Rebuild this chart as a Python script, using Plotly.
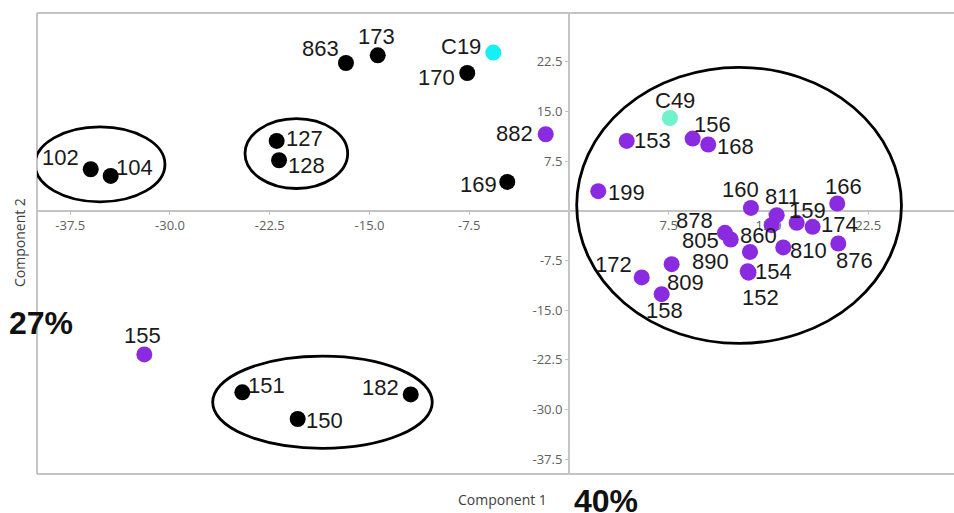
import plotly.graph_objects as go

# ---- data ----
black_ids = ["102", "104", "127", "128", "863", "173", "170", "169", "151", "150", "182"]
black_x = [-35.96, -34.46, -21.98, -21.80, -16.77, -14.38, -7.65, -4.64, -24.56, -20.40, -11.90]
black_y = [6.26, 5.25, 10.53, 7.62, 22.30, 23.46, 20.79, 4.35, -27.43, -31.46, -27.74]

purple_ids = ["882", "155", "199", "153", "156", "168", "160", "811", "166", "159", "174",
              "878", "805", "860", "890", "154", "152", "810", "876", "172", "809", "158"]
purple_x = [-1.75, -31.93, 2.20, 4.34, 9.30, 10.47, 13.68, 15.62, 20.17, 17.12, 18.32,
            11.73, 12.16, 15.24, 13.61, 13.44, 13.50, 16.11, 20.25, 5.47, 7.72, 6.97]
purple_y = [11.54, -21.70, 2.94, 10.53, 10.89, 9.99, 0.42, -0.68, 1.09, -1.84, -2.44,
            -3.35, -4.35, -2.19, -6.22, -9.13, -9.36, -5.55, -4.95, -10.08, -8.07, -12.60]

cyan_ids = ["C19"]
cyan_x = [-5.69]
cyan_y = [23.87]

aqua_ids = ["C49"]
aqua_x = [7.59]
aqua_y = [14.00]

x_ticks = [-37.5, -30.0, -22.5, -15.0, -7.5, 7.5, 15.0, 22.5]
y_ticks = [22.5, 15.0, 7.5, -7.5, -15.0, -22.5, -30.0, -37.5]

x_title = "Component 1"
y_title = "Component 2"
x_pct = "40%"
y_pct = "27%"

# group ellipses (x0, x1, y0, y1) in data units
groups = [
    (-40.15, -30.38, 1.33, 12.65),
    (-24.36, -16.64, 3.35, 13.91),
    (-26.79, -10.28, -35.88, -21.96),
    (0.58, 25.0, -20.04, 21.65),
]

# ---- styling ----
X_RANGE = [-40, 28.95]
Y_RANGE = [-39.76, 29.85]
AXIS_GREY = "#c4c4c4"

# label offsets in pixels (dx right, dy down) relative to the point
label_offsets = {
    "102": (-30, -11.5), "104": (24, -8), "127": (28, -2), "128": (27, 5),
    "863": (-25, -15), "173": (-1, -19), "C19": (-32, -6.5), "170": (-31, 4),
    "882": (-31.5, -1), "169": (-29, 3), "199": (28, 1.5), "C49": (5, -17),
    "153": (26, 0), "156": (20, -14), "168": (27, 1.5), "160": (-10, -18.5),
    "811": (6, -19), "166": (6, -17), "159": (11, -12.7), "174": (27, -2.5),
    "878": (-30, -12), "805": (-30, 1.5), "860": (-13, 10), "890": (-39, 10),
    "154": (25.6, 0), "152": (12, 25), "810": (25, 3.5), "876": (16, 17.5),
    "172": (-28, -13), "809": (14, 18.5), "158": (3, 16), "155": (-1.5, -19),
    "151": (24, -6.5), "150": (27, 1), "182": (-30, -7),
}

fig = go.Figure()

series = [
    (black_ids, black_x, black_y, "#000000"),
    (purple_ids, purple_x, purple_y, "#8a2be2"),
    (cyan_ids, cyan_x, cyan_y, "#16f0f5"),
    (aqua_ids, aqua_x, aqua_y, "#70f2cc"),
]

for ids, xs, ys, col in series:
    fig.add_trace(go.Scatter(
        x=xs, y=ys, mode="markers", text=ids,
        marker=dict(size=16, color=col, line=dict(width=0)),
        hoverinfo="text", showlegend=False,
    ))

annotations = []
for ids, xs, ys, col in series:
    for name, xv, yv in zip(ids, xs, ys):
        dx, dy = label_offsets.get(name, (20, 0))
        annotations.append(dict(
            x=xv, y=yv, xref="x", yref="y", text=name, showarrow=False,
            xanchor="center", yanchor="middle", xshift=dx, yshift=-dy,
            font=dict(family="Liberation Sans, Arial, sans-serif", size=22, color="#1a1a1a"),
        ))

W, H = 954, 513
ML, MR, MT, MB = 37, 0, 13, 39
pw, ph = W - ML - MR, H - MT - MB

def px(xp):
    return (xp - ML) / pw

def py(yp):
    return (H - MB - yp) / ph

annotations += [
    dict(x=px(502), y=py(500), xref="paper", yref="paper", text=x_title, showarrow=False,
         xanchor="center", yanchor="middle",
         font=dict(family="Open Sans, sans-serif", size=14, color="#404040")),
    dict(x=px(606), y=py(501), xref="paper", yref="paper", text=f"<b>{x_pct}</b>", showarrow=False,
         xanchor="center", yanchor="middle",
         font=dict(family="Liberation Sans, Arial, sans-serif", size=32, color="#111111")),
    dict(x=px(19), y=py(243), xref="paper", yref="paper", text=y_title, showarrow=False,
         textangle=-90, xanchor="center", yanchor="middle",
         font=dict(family="Open Sans, sans-serif", size=14, color="#404040")),
    dict(x=px(41), y=py(323), xref="paper", yref="paper", text=f"<b>{y_pct}</b>", showarrow=False,
         xanchor="center", yanchor="middle",
         font=dict(family="Liberation Sans, Arial, sans-serif", size=32, color="#111111")),
]

shapes = []
# frame: top, bottom, left
for (x0, y0, x1, y1) in [(0, 1, 1, 1), (0, 0, 1, 0), (0, 0, 0, 1)]:
    shapes.append(dict(type="line", xref="paper", yref="paper", x0=x0, y0=y0, x1=x1, y1=y1,
                       line=dict(color=AXIS_GREY, width=2), layer="below"))
for (x0, x1, y0, y1) in groups:
    shapes.append(dict(type="circle", xref="x", yref="y", x0=x0, x1=x1, y0=y0, y1=y1,
                       line=dict(color="#000000", width=2.8), layer="above"))

x_pos = (0 - Y_RANGE[0]) / (Y_RANGE[1] - Y_RANGE[0])
y_pos = (0 - X_RANGE[0]) / (X_RANGE[1] - X_RANGE[0])

tick_font = dict(family="Open Sans, sans-serif", size=13, color="#606060")

fig.update_layout(
    width=W, height=H, autosize=False,
    margin=dict(l=ML, r=MR, t=MT, b=MB, pad=0),
    paper_bgcolor="white", plot_bgcolor="white",
    xaxis=dict(range=X_RANGE, domain=[0, 1], anchor="free", position=x_pos,
               showgrid=False, zeroline=False, showline=True, linecolor=AXIS_GREY, linewidth=2,
               tickvals=x_ticks, ticktext=[f"{v:.1f}" for v in x_ticks],
               ticks="outside", ticklen=3, tickcolor=AXIS_GREY, tickfont=tick_font,
               layer="below traces", fixedrange=True),
    yaxis=dict(range=Y_RANGE, domain=[0, 1], anchor="free", position=y_pos,
               showgrid=False, zeroline=False, showline=True, linecolor=AXIS_GREY, linewidth=2,
               tickvals=y_ticks, ticktext=[f"{v:.1f}" for v in y_ticks],
               ticks="outside", ticklen=3, tickcolor=AXIS_GREY, tickfont=tick_font,
               layer="below traces", fixedrange=True),
    annotations=annotations, shapes=shapes,
)

fig.write_html(
    "out.html",
    config={"displayModeBar": False},
    post_script="document.body.style.margin='0';document.body.style.overflow='hidden';",
)
